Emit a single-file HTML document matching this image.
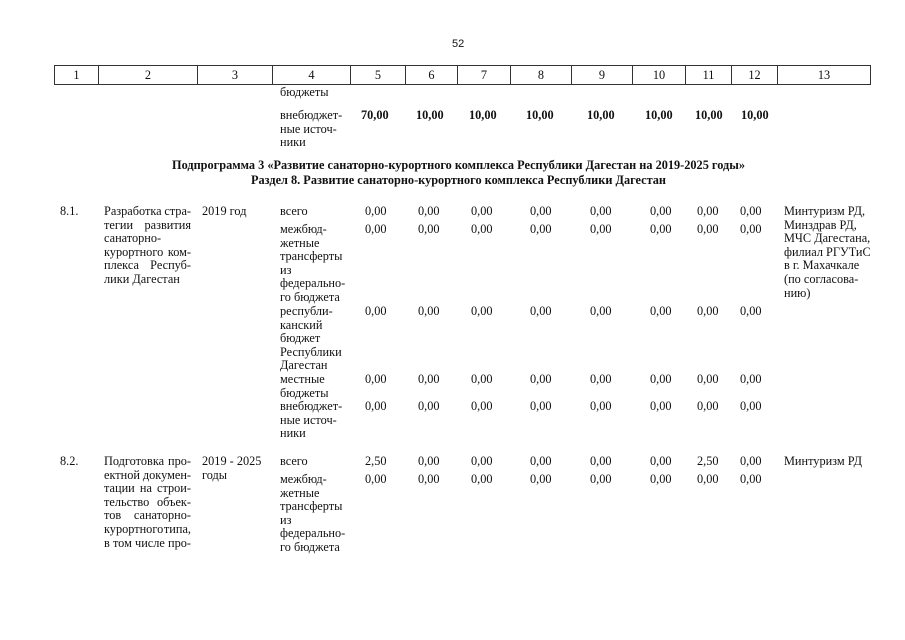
<!DOCTYPE html>
<html><head><meta charset="utf-8"><style>
body{margin:0;background:#fff;}
#p{position:relative;width:905px;height:640px;overflow:hidden;background:#fff;font-family:"Liberation Serif","DejaVu Serif",serif;font-size:12.3px;line-height:13.6px;color:#111;}
.t{position:absolute;white-space:nowrap;}
.b{font-weight:bold;}
.c{text-align:center;}
.j{position:absolute;width:87px;}
.j div{display:flex;justify-content:space-between;white-space:nowrap;height:13.6px;}
table{position:absolute;left:54px;top:65px;border-collapse:collapse;}
td{border:1.3px solid #333;height:18px;padding:0;text-align:center;font-size:12.3px;line-height:18px;}
</style></head><body><div id="p">
<div class="t" style="left:452px;top:38px;font-family:'Liberation Sans',sans-serif;font-size:11px">52</div>
<table><tr>
<td style="width:43px">1</td><td style="width:98px">2</td><td style="width:74px">3</td><td style="width:77px">4</td><td style="width:54px">5</td><td style="width:51px">6</td><td style="width:52px">7</td><td style="width:60px">8</td><td style="width:60px">9</td><td style="width:52px">10</td><td style="width:45px">11</td><td style="width:45px">12</td><td style="width:92px">13</td>
</tr></table>

<div class="t" style="left:280px;top:86px">бюджеты</div>
<div class="t" style="left:280px;top:109px">внебюджет-<br>ные источ-<br>ники</div>
<div class="t b" style="left:361px;top:109px">70,00</div>
<div class="t b" style="left:416px;top:109px">10,00</div>
<div class="t b" style="left:469px;top:109px">10,00</div>
<div class="t b" style="left:526px;top:109px">10,00</div>
<div class="t b" style="left:587px;top:109px">10,00</div>
<div class="t b" style="left:645px;top:109px">10,00</div>
<div class="t b" style="left:695px;top:109px">10,00</div>
<div class="t b" style="left:741px;top:109px">10,00</div>

<div class="t b c" style="left:6px;width:905px;top:158px;font-size:12.3px;line-height:15px">Подпрограмма 3 «Развитие санаторно-курортного комплекса Республики Дагестан на 2019-2025 годы»<br>Раздел 8. Развитие санаторно-курортного комплекса Республики Дагестан</div>

<div class="t" style="left:60px;top:205px">8.1.</div>
<div class="j" style="left:104px;top:205px">
<div><span>Разработка</span><span>стра-</span></div>
<div><span>тегии</span><span>развития</span></div>
<div><span>санаторно-</span></div>
<div><span>курортного</span><span>ком-</span></div>
<div><span>плекса</span><span>Респуб-</span></div>
<div><span>лики Дагестан</span></div>
</div>
<div class="t" style="left:202px;top:205px">2019 год</div>
<div class="t" style="left:280px;top:205px">всего</div>
<div class="t" style="left:280px;top:223px">межбюд-<br>жетные<br>трансферты<br>из<br>федерально-<br>го бюджета</div>
<div class="t" style="left:280px;top:305px">республи-<br>канский<br>бюджет<br>Республики<br>Дагестан</div>
<div class="t" style="left:280px;top:373px">местные<br>бюджеты</div>
<div class="t" style="left:280px;top:400px">внебюджет-<br>ные источ-<br>ники</div>
<div class="t" style="left:784px;top:205px">Минтуризм РД,<br>Минздрав РД,<br>МЧС Дагестана,<br>филиал РГУТиС<br>в г. Махачкале<br>(по согласова-<br>нию)</div>

<div class="t" style="left:60px;top:455px">8.2.</div>
<div class="j" style="left:104px;top:455px">
<div><span>Подготовка</span><span>про-</span></div>
<div><span>ектной</span><span>докумен-</span></div>
<div><span>тации</span><span>на</span><span>строи-</span></div>
<div><span>тельство</span><span>объек-</span></div>
<div><span>тов</span><span>санаторно-</span></div>
<div><span>курортного</span><span>типа,</span></div>
<div><span>в</span><span>том</span><span>числе</span><span>про-</span></div>
</div>
<div class="t" style="left:202px;top:455px">2019 - 2025<br>годы</div>
<div class="t" style="left:280px;top:455px">всего</div>
<div class="t" style="left:280px;top:473px">межбюд-<br>жетные<br>трансферты<br>из<br>федерально-<br>го бюджета</div>
<div class="t" style="left:784px;top:455px">Минтуризм РД</div>

<div id="vals"></div>
</div>
<script>
var xs=[365,418,471,530,590,650,697,740];
var rows=[[205,null],[223,null],[305,null],[373,null],[400,null],[455,[0,6]],[473,null]];
var h='';
rows.forEach(function(r){xs.forEach(function(x,i){var v=(r[1]&&r[1].indexOf(i)>=0)?'2,50':'0,00';h+='<div class="t" style="left:'+x+'px;top:'+r[0]+'px">'+v+'</div>';});});
document.getElementById('vals').outerHTML=h;
</script>
</body></html>
